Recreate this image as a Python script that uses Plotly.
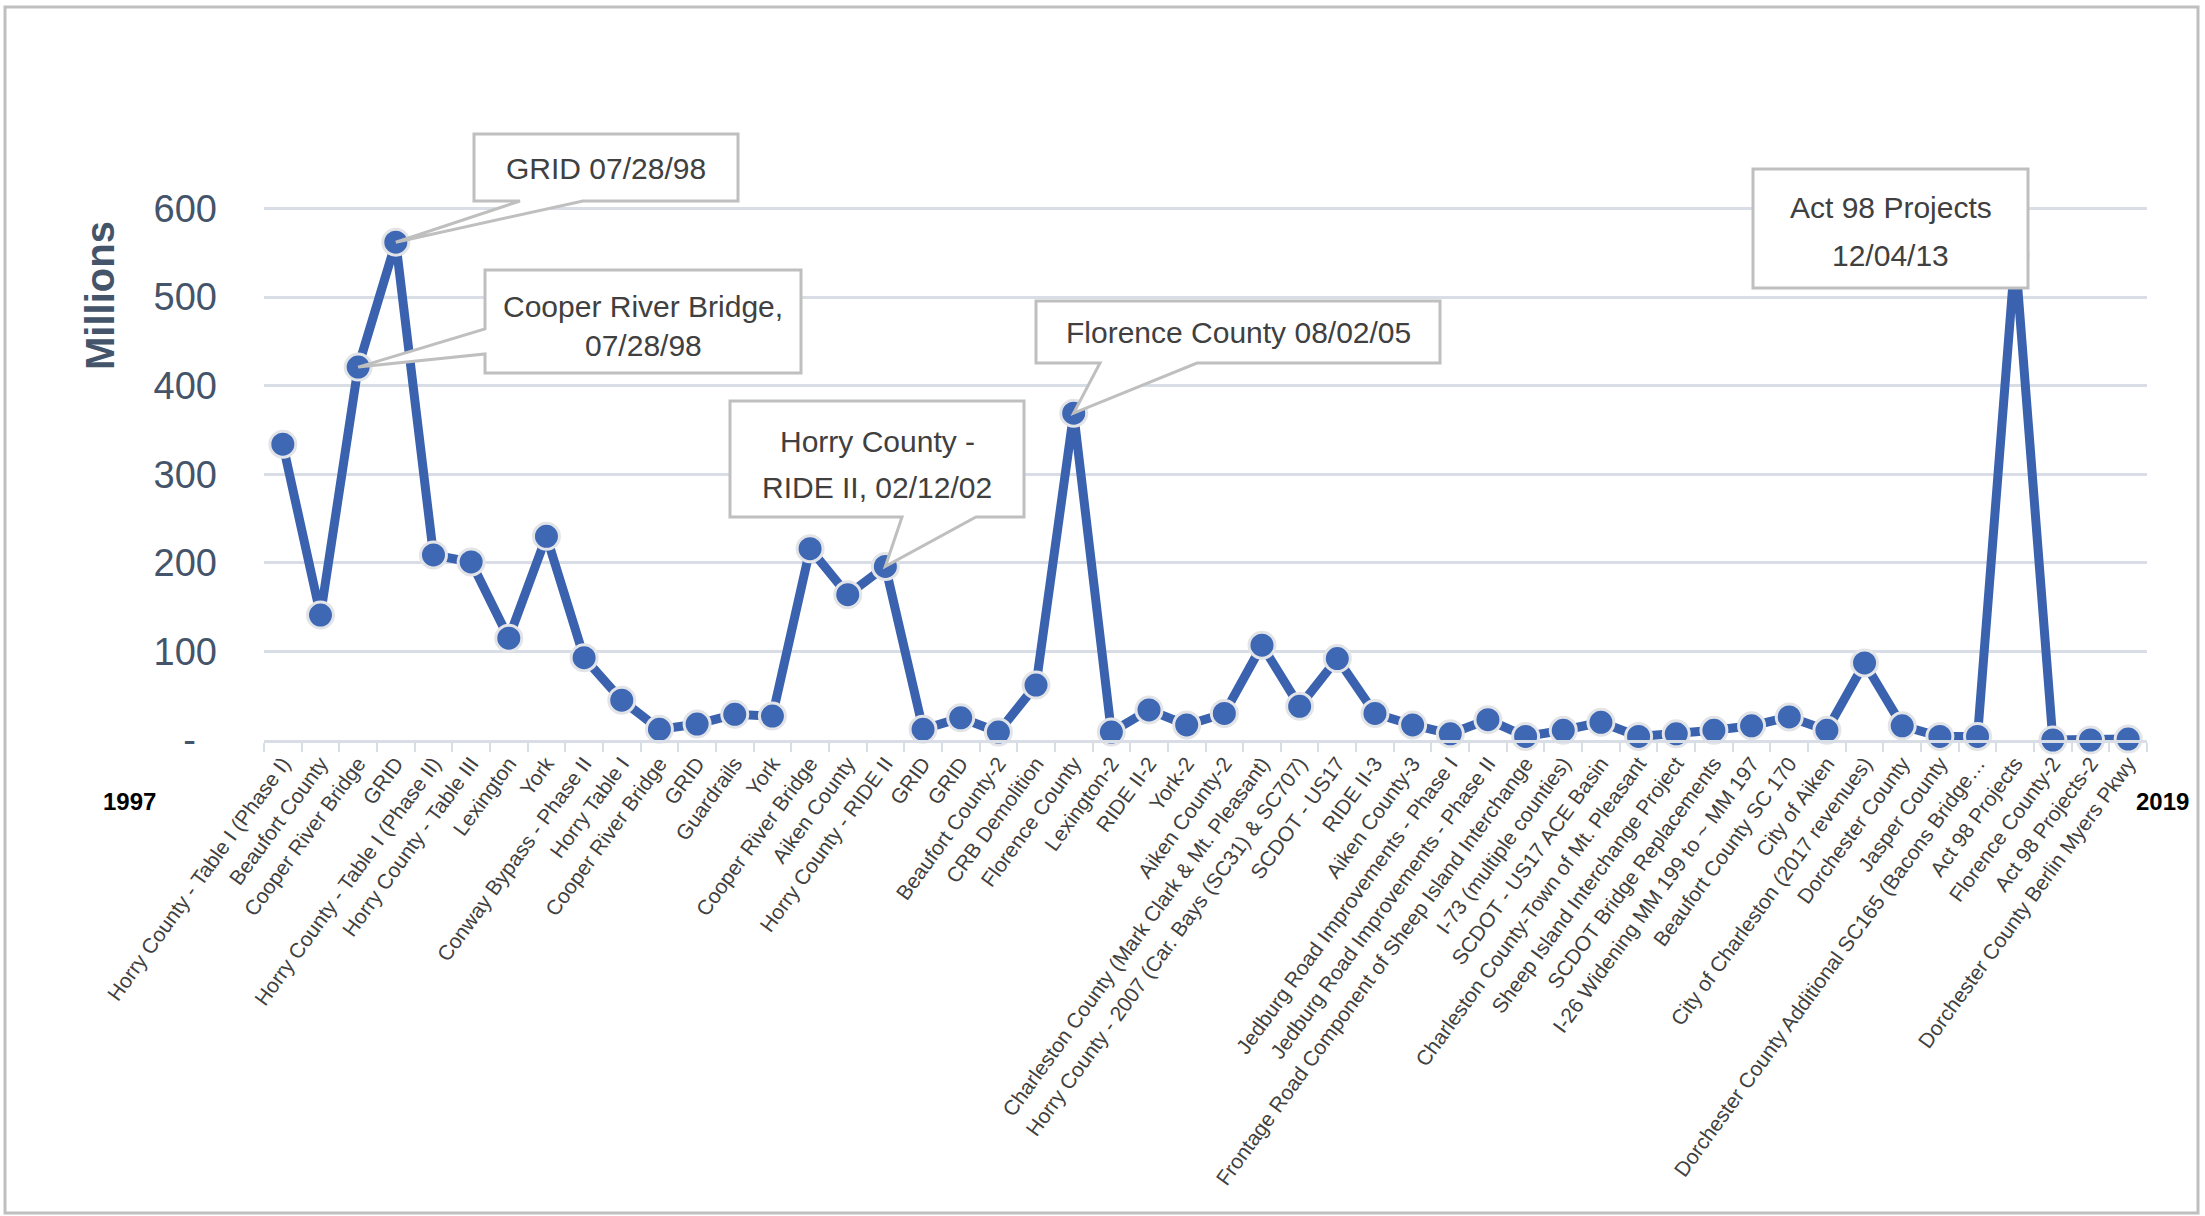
import plotly.graph_objects as go

# Project names along the category axis (in issue order)
projects = [
    "Horry County - Table I (Phase I)", "Beaufort County", "Cooper River Bridge", "GRID",
    "Horry County - Table I (Phase II)", "Horry County - Table III", "Lexington", "York",
    "Conway Bypass - Phase II", "Horry Table I", "Cooper River Bridge", "GRID", "Guardrails",
    "York", "Cooper River Bridge", "Aiken County", "Horry County - RIDE II", "GRID", "GRID",
    "Beaufort County-2", "CRB Demolition", "Florence County", "Lexington-2", "RIDE II-2",
    "York-2", "Aiken County-2", "Charleston County (Mark Clark & Mt. Pleasant)",
    "Horry County - 2007 (Car. Bays (SC31) & SC707)", "SCDOT - US17", "RIDE II-3",
    "Aiken County-3", "Jedburg Road Improvements - Phase I",
    "Jedburg Road Improvements - Phase II",
    "Frontage Road Component of Sheep Island Interchange", "I-73 (multiple counties)",
    "SCDOT - US17 ACE Basin", "Charleston County-Town of Mt. Pleasant",
    "Sheep Island Interchange Project", "SCDOT Bridge Replacements",
    "I-26 Widening MM 199 to ~ MM 197", "Beaufort County SC 170", "City of Aiken",
    "City of Charleston (2017 revenues)", "Dorchester County", "Jasper County",
    "Dorchester County Additional SC165 (Bacons Bridge\u2026", "Act 98 Projects",
    "Florence County-2", "Act 98 Projects-2", "Dorchester County Berlin Myers Pkwy",
]

# Amounts in millions of dollars
amounts = [
    334, 141, 421, 562, 209, 201, 115, 230, 93, 45,
    12, 18, 29, 27, 216, 164, 196, 12, 25, 9,
    62, 369, 9, 34, 17, 30, 107, 38, 92, 30,
    17, 7, 23, 4, 11, 20, 4, 7, 11, 16,
    26, 11, 87, 16, 4, 4, 548, 0, 0, 1,
]

y_ticks = [0, 100, 200, 300, 400, 500, 600]
y_tick_text = ["-\u00a0\u00a0", "100", "200", "300", "400", "500", "600"]

# Callouts: index of the labelled point, text lines, box (left, top, right, bottom) in px,
# wedge side and wedge base positions in px, centre of each text line in px
callouts = [
    dict(idx=3, lines=["GRID 07/28/98"], box=(474, 134, 738, 201),
         side="bottom", base=(520, 583), line_y=[168]),
    dict(idx=2, lines=["Cooper River Bridge,", "07/28/98"], box=(485, 270, 801, 373),
         side="left", base=(329, 354), line_y=[306, 345]),
    dict(idx=16, lines=["Horry County -", "RIDE II, 02/12/02"], box=(730, 401, 1024, 517),
         side="bottom", base=(902, 976), line_y=[441, 487]),
    dict(idx=21, lines=["Florence County 08/02/05"], box=(1036, 301, 1440, 363),
         side="bottom", base=(1100, 1197), line_y=[332]),
    dict(idx=46, lines=["Act 98 Projects", "12/04/13"], box=(1753, 169, 2028, 288),
         side=None, base=None, line_y=[207, 255]),
]

W, H = 2205, 1216
ML, MR, MT, MB = 264, 58, 120, 476
Y_MAX = 700
PW, PH = W - ML - MR, H - MT - MB
N = len(projects)

FONT = "Liberation Sans"
SLATE = "#44546A"
TEXT = "#404040"
GRID = "#D9DEE6"


def dx(px):
    return -0.5 + (px - ML) / PW * N


def dy(py):
    return (H - MB - py) / PH * Y_MAX


def px_paper_x(px):
    return (px - ML) / PW


def px_paper_y(py):
    return (H - MB - py) / PH


fig = go.Figure()
fig.add_trace(go.Scatter(
    x=list(range(N)), y=amounts, mode="lines+markers",
    line=dict(color="#3A62AE", width=9),
    marker=dict(size=26, color="#3E67B4", line=dict(color="#E2E4E8", width=3)),
    cliponaxis=False, hoverinfo="skip",
))

shapes = []
annotations = []

for c in callouts:
    x0, y0, x1, y1 = c["box"]
    tip = (c["idx"], amounts[c["idx"]])
    pts = [(dx(x0), dy(y0)), (dx(x1), dy(y0)), (dx(x1), dy(y1))]
    if c["side"] == "bottom":
        b1, b2 = c["base"]
        pts += [(dx(b2), dy(y1)), tip, (dx(b1), dy(y1)), (dx(x0), dy(y1))]
    elif c["side"] == "left":
        b1, b2 = c["base"]
        pts += [(dx(x0), dy(y1)), (dx(x0), dy(b2)), tip, (dx(x0), dy(b1))]
    else:
        pts += [(dx(x0), dy(y1))]
    path = "M " + " L ".join(f"{px:.4f},{py:.4f}" for px, py in pts) + " Z"
    shapes.append(dict(type="path", path=path, xref="x", yref="y",
                       fillcolor="white", line=dict(color="#BFBFBF", width=3),
                       layer="above"))
    cx = (x0 + x1) / 2
    for text, ly in zip(c["lines"], c["line_y"]):
        annotations.append(dict(
            x=px_paper_x(cx), y=px_paper_y(ly), xref="paper", yref="paper",
            text=text, showarrow=False, xanchor="center", yanchor="middle",
            font=dict(family=FONT, size=30, color=TEXT),
        ))

# Outer chart border
shapes.append(dict(type="rect", xref="paper", yref="paper",
                   x0=px_paper_x(5), x1=px_paper_x(2198),
                   y0=px_paper_y(1213), y1=px_paper_y(7),
                   line=dict(color="#BFBFBF", width=3), fillcolor="rgba(0,0,0,0)",
                   layer="below"))

# Value axis title
annotations.append(dict(
    x=px_paper_x(100), y=px_paper_y(296), xref="paper", yref="paper",
    text="<b>Millions</b>", textangle=-90, showarrow=False,
    xanchor="center", yanchor="middle",
    font=dict(family=FONT, size=40, color=SLATE),
))

# Period end labels
for text, px in (("1997", 129), ("2019", 2162)):
    annotations.append(dict(
        x=px_paper_x(px), y=px_paper_y(801), xref="paper", yref="paper",
        text=f"<b>{text}</b>", showarrow=False, xanchor="center", yanchor="middle",
        font=dict(family=FONT, size=24, color="black"),
    ))

fig.update_layout(
    width=W, height=H,
    margin=dict(l=ML, r=MR, t=MT, b=MB, autoexpand=False),
    paper_bgcolor="white", plot_bgcolor="white",
    showlegend=False,
    shapes=shapes, annotations=annotations,
    xaxis=dict(
        range=[-0.5, N - 0.5], tickmode="array", tickvals=list(range(N)), ticktext=projects,
        tickangle=-54, tickfont=dict(family=FONT, size=21, color=TEXT),
        ticks="", showgrid=False, zeroline=False,
        showline=True, linecolor=GRID, linewidth=3,
        minor=dict(tickmode="linear", tick0=-0.5, dtick=1, ticks="outside",
                   ticklen=9, tickwidth=2, tickcolor=GRID, showgrid=False),
        fixedrange=True,
    ),
    yaxis=dict(
        range=[0, Y_MAX], tickmode="array", tickvals=y_ticks, ticktext=y_tick_text,
        tickfont=dict(family=FONT, size=38, color=SLATE),
        showgrid=True, gridcolor=GRID, gridwidth=3, zeroline=False,
        ticklabelstandoff=46,
        fixedrange=True,
    ),
)

fig.write_html("out.html")
